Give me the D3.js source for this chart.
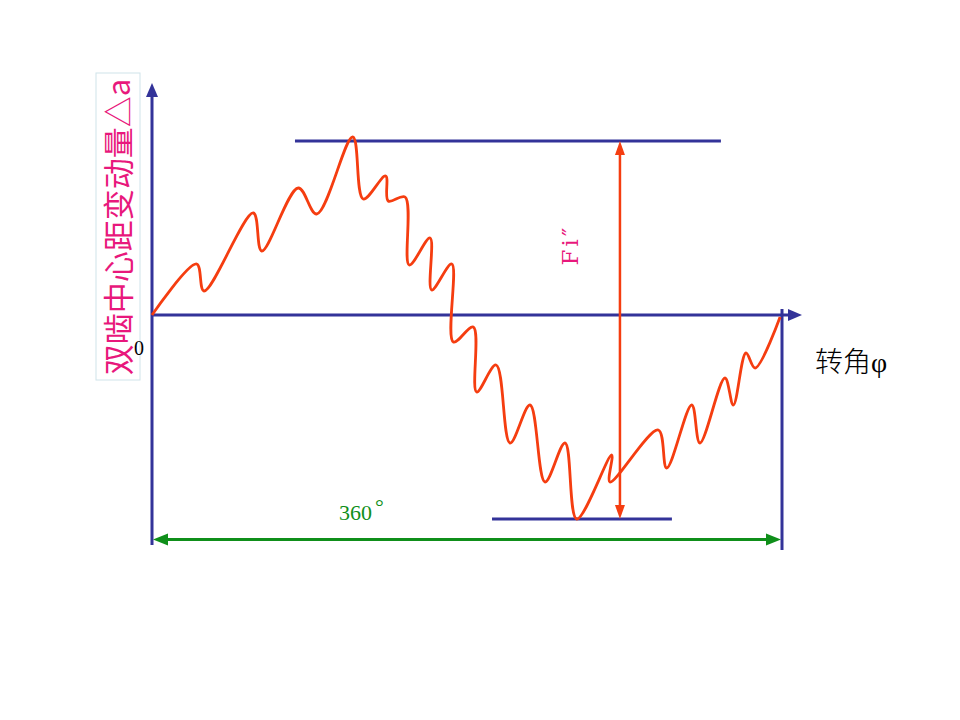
<!DOCTYPE html>
<html><head><meta charset="utf-8">
<script src="https://cdn.jsdelivr.net/npm/d3@7"></script>
<style>body{margin:0;background:#fff}</style>
</head><body>
<script>
// Data: rotation angle (deg) and centre-distance variation (arbitrary units)
const phi = [0,25.5,29.7,57.9,62.7,83.6,94.1,114.7,120.7,133.5,135,144.6,147,158.9,159.8,171.3,172.2,183.6,185.5,196.6,204.6,216,224.6,236,242.7,262.7,261.7,289.3,294.1,308.4,313.1,327.4,332.2,339.4,344.6,358.9];
const deltaA = [0,5.1,2.4,10.2,6.4,12.7,10.1,17.8,11.6,13.9,11.4,11.8,5.0,7.7,2.5,5.1,-2.7,-1.2,-7.7,-5.0,-12.8,-9.0,-16.7,-12.8,-20.4,-14.0,-16.7,-11.5,-15.3,-9.0,-12.8,-6.3,-9.0,-3.8,-5.3,-0.2];
const yLabel = "双啮中心距变动量△a";
const xLabel = "转角";
const xSymbol = "φ";
const fiLabel = "Fi″";
const periodLabel = "360";
const originLabel = "0";

const W = 960, H = 720;
const svg = d3.select("body").append("svg").attr("width", W).attr("height", H);
const x = d3.scaleLinear().domain([0, 360]).range([152, 782]);
const y = d3.scaleLinear().domain([-20.4, 17.4]).range([519, 141]);
const maxV = d3.max(deltaA), minV = d3.min(deltaA);
const blue = "#333399", red = "#f53d10", green = "#0f8f1a", pink = "#e8187c";

function tri(cx, cy, dir, len, half, color) {
  let pts;
  if (dir === "up") pts = [[cx, cy], [cx - half, cy + len], [cx + half, cy + len]];
  if (dir === "down") pts = [[cx, cy], [cx - half, cy - len], [cx + half, cy - len]];
  if (dir === "right") pts = [[cx, cy], [cx - len, cy - half], [cx - len, cy + half]];
  if (dir === "left") pts = [[cx, cy], [cx + len, cy - half], [cx + len, cy + half]];
  svg.append("polygon").attr("points", pts.map(p => p.join(",")).join(" ")).attr("fill", color);
}

// y label box
svg.append("rect").attr("x", 96).attr("y", 73).attr("width", 44).attr("height", 307)
  .attr("fill", "none").attr("stroke", "#cfe3ea").attr("stroke-width", 1);
svg.append("text").attr("transform", "translate(130,227) rotate(-90)")
  .attr("text-anchor", "middle").attr("fill", pink)
  .attr("font-family", "'Noto Sans CJK SC', sans-serif").attr("font-size", 31)
  .text(yLabel);

// axes
const x0 = x(0), y0 = y(0), yTop = y(23.2), yBot = y(-23);
svg.append("line").attr("x1", x0).attr("x2", x0).attr("y1", yTop + 10).attr("y2", yBot)
  .attr("stroke", blue).attr("stroke-width", 3);
tri(x0, yTop, "up", 14, 6, blue);
const xEnd = x(360) + 20;
svg.append("line").attr("x1", x0).attr("x2", xEnd - 10).attr("y1", y0).attr("y2", y0)
  .attr("stroke", blue).attr("stroke-width", 3);
tri(xEnd, y0, "right", 14, 6, blue);
svg.append("line").attr("x1", x(360)).attr("x2", x(360)).attr("y1", y0 - 6).attr("y2", y(-23.5))
  .attr("stroke", blue).attr("stroke-width", 3);

// max/min level lines
svg.append("line").attr("x1", x(81.7)).attr("x2", x(325.1)).attr("y1", y(maxV) + 4).attr("y2", y(maxV) + 4)
  .attr("stroke", blue).attr("stroke-width", 3);
svg.append("line").attr("x1", x(194.3)).attr("x2", x(297.1)).attr("y1", y(minV)).attr("y2", y(minV))
  .attr("stroke", blue).attr("stroke-width", 3);

// Fi'' arrow
const fx = x(267.4);
svg.append("line").attr("x1", fx).attr("x2", fx).attr("y1", y(maxV) + 14).attr("y2", y(minV) - 12)
  .attr("stroke", red).attr("stroke-width", 2.5);
tri(fx, y(maxV) + 4, "up", 14, 5, red);
tri(fx, y(minV), "down", 14, 5, red);
svg.append("text").attr("transform", `translate(578,${(y(maxV)+y(minV))/2 - 83}) rotate(-90)`)
  .attr("text-anchor", "middle").attr("fill", pink)
  .attr("font-family", "'DejaVu Serif', serif").attr("font-size", 23)
  .attr("letter-spacing", 3)
  .text(fiLabel);

// 360° arrow
const gy = 539.5;
svg.append("line").attr("x1", x0 + 12).attr("x2", x(360) - 12).attr("y1", gy).attr("y2", gy)
  .attr("stroke", green).attr("stroke-width", 3);
tri(x0 + 1, gy, "left", 15, 6, green);
tri(x(360) - 1, gy, "right", 15, 6, green);
const pt = svg.append("text").attr("x", 339).attr("y", 520).attr("fill", green)
  .attr("font-family", "'Liberation Serif', serif").attr("font-size", 22);
pt.append("tspan").text(periodLabel);
pt.append("tspan").attr("dx", 3).attr("dy", -6).attr("font-size", 22).text("°");

// curve
const pts = phi.map((p, i) => [x(p), y(deltaA[i])]);
svg.append("path").attr("d", d3.line().curve(d3.curveCatmullRom.alpha(0.5))(pts))
  .attr("fill", "none").attr("stroke", red).attr("stroke-width", 2.8).attr("stroke-linejoin", "round");

// labels
svg.append("text").attr("x", 134).attr("y", 355).attr("fill", "#000")
  .attr("font-family", "'Liberation Serif', serif").attr("font-size", 20).text(originLabel);
const xl = svg.append("text").attr("x", 815).attr("y", 372).attr("fill", "#000")
  .attr("font-family", "'Noto Sans CJK SC', serif").attr("font-size", 28);
xl.append("tspan").attr("font-weight", 300).text(xLabel);
xl.append("tspan").attr("font-family", "'Liberation Serif', serif").attr("font-size", 28).text(xSymbol);
</script>
</body></html>
